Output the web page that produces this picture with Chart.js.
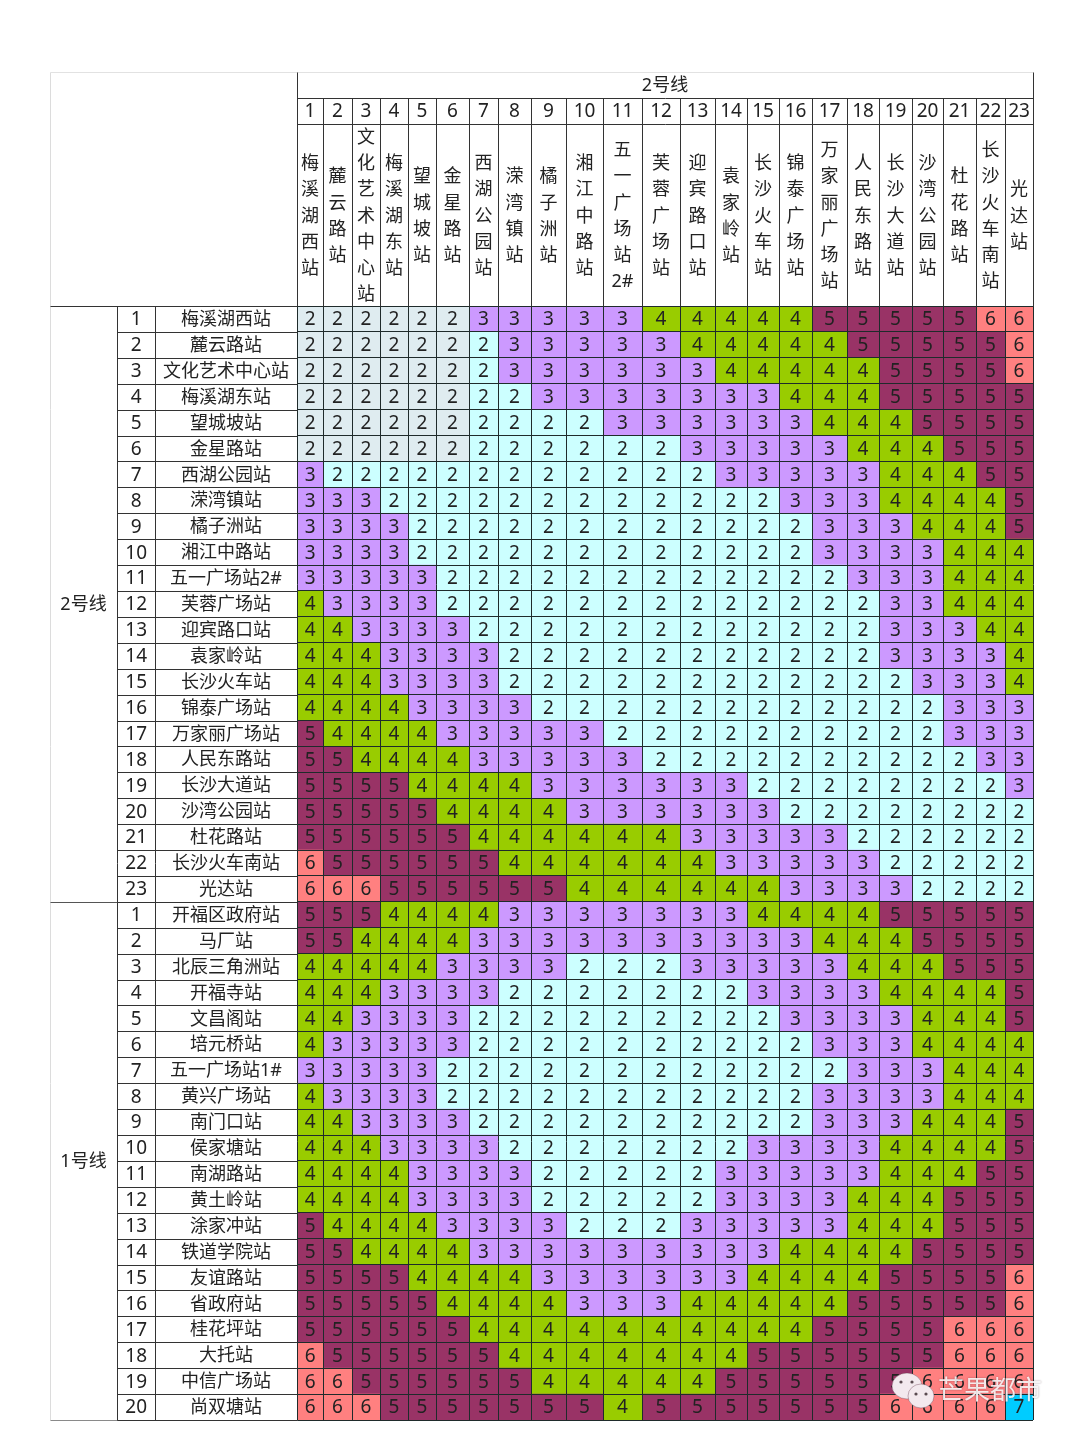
<!DOCTYPE html>
<html lang="zh">
<head>
<meta charset="utf-8">
<title>长沙地铁票价表</title>
<style>html,body{margin:0;padding:0;background:#fff}canvas{display:block}</style>
<script src="https://cdn.jsdelivr.net/npm/chart.js@4"></script>
</head>
<body>
<canvas id="c" width="1080" height="1441"></canvas>
<script>
const line2Name = '2号线';
const line1Name = '1号线';
const line2Stations = ['梅溪湖西站','麓云路站','文化艺术中心站','梅溪湖东站','望城坡站','金星路站','西湖公园站','溁湾镇站','橘子洲站','湘江中路站','五一广场站2#','芙蓉广场站','迎宾路口站','袁家岭站','长沙火车站','锦泰广场站','万家丽广场站','人民东路站','长沙大道站','沙湾公园站','杜花路站','长沙火车南站','光达站'];
const line1Stations = ['开福区政府站','马厂站','北辰三角洲站','开福寺站','文昌阁站','培元桥站','五一广场站1#','黄兴广场站','南门口站','侯家塘站','南湖路站','黄土岭站','涂家冲站','铁道学院站','友谊路站','省政府站','桂花坪站','大托站','中信广场站','尚双塘站'];

const line2Fares = [
[2,2,2,2,2,2,3,3,3,3,3,4,4,4,4,4,5,5,5,5,5,6,6],
[2,2,2,2,2,2,2,3,3,3,3,3,4,4,4,4,4,5,5,5,5,5,6],
[2,2,2,2,2,2,2,3,3,3,3,3,3,4,4,4,4,4,5,5,5,5,6],
[2,2,2,2,2,2,2,2,3,3,3,3,3,3,3,4,4,4,5,5,5,5,5],
[2,2,2,2,2,2,2,2,2,2,3,3,3,3,3,3,4,4,4,5,5,5,5],
[2,2,2,2,2,2,2,2,2,2,2,2,3,3,3,3,3,4,4,4,5,5,5],
[3,2,2,2,2,2,2,2,2,2,2,2,2,3,3,3,3,3,4,4,4,5,5],
[3,3,3,2,2,2,2,2,2,2,2,2,2,2,2,3,3,3,4,4,4,4,5],
[3,3,3,3,2,2,2,2,2,2,2,2,2,2,2,2,3,3,3,4,4,4,5],
[3,3,3,3,2,2,2,2,2,2,2,2,2,2,2,2,3,3,3,3,4,4,4],
[3,3,3,3,3,2,2,2,2,2,2,2,2,2,2,2,2,3,3,3,4,4,4],
[4,3,3,3,3,2,2,2,2,2,2,2,2,2,2,2,2,2,3,3,4,4,4],
[4,4,3,3,3,3,2,2,2,2,2,2,2,2,2,2,2,2,3,3,3,4,4],
[4,4,4,3,3,3,3,2,2,2,2,2,2,2,2,2,2,2,3,3,3,3,4],
[4,4,4,3,3,3,3,2,2,2,2,2,2,2,2,2,2,2,2,3,3,3,4],
[4,4,4,4,3,3,3,3,2,2,2,2,2,2,2,2,2,2,2,2,3,3,3],
[5,4,4,4,4,3,3,3,3,3,2,2,2,2,2,2,2,2,2,2,3,3,3],
[5,5,4,4,4,4,3,3,3,3,3,2,2,2,2,2,2,2,2,2,2,3,3],
[5,5,5,5,4,4,4,4,3,3,3,3,3,3,2,2,2,2,2,2,2,2,3],
[5,5,5,5,5,4,4,4,4,3,3,3,3,3,3,2,2,2,2,2,2,2,2],
[5,5,5,5,5,5,4,4,4,4,4,4,3,3,3,3,3,2,2,2,2,2,2],
[6,5,5,5,5,5,5,4,4,4,4,4,4,3,3,3,3,3,2,2,2,2,2],
[6,6,6,5,5,5,5,5,5,4,4,4,4,4,4,3,3,3,3,2,2,2,2]
];
const line1Fares = [
[5,5,5,4,4,4,4,3,3,3,3,3,3,3,4,4,4,4,5,5,5,5,5],
[5,5,4,4,4,4,3,3,3,3,3,3,3,3,3,3,4,4,4,5,5,5,5],
[4,4,4,4,4,3,3,3,3,2,2,2,3,3,3,3,3,4,4,4,5,5,5],
[4,4,4,3,3,3,3,2,2,2,2,2,2,2,3,3,3,3,4,4,4,4,5],
[4,4,3,3,3,3,2,2,2,2,2,2,2,2,2,3,3,3,3,4,4,4,5],
[4,3,3,3,3,3,2,2,2,2,2,2,2,2,2,2,3,3,3,4,4,4,4],
[3,3,3,3,3,2,2,2,2,2,2,2,2,2,2,2,2,3,3,3,4,4,4],
[4,3,3,3,3,2,2,2,2,2,2,2,2,2,2,2,3,3,3,3,4,4,4],
[4,4,3,3,3,3,2,2,2,2,2,2,2,2,2,2,3,3,3,4,4,4,5],
[4,4,4,3,3,3,3,2,2,2,2,2,2,2,3,3,3,3,4,4,4,4,5],
[4,4,4,4,3,3,3,3,2,2,2,2,2,3,3,3,3,3,4,4,4,5,5],
[4,4,4,4,3,3,3,3,2,2,2,2,2,3,3,3,3,4,4,4,5,5,5],
[5,4,4,4,4,3,3,3,3,2,2,2,3,3,3,3,3,4,4,4,5,5,5],
[5,5,4,4,4,4,3,3,3,3,3,3,3,3,3,4,4,4,4,5,5,5,5],
[5,5,5,5,4,4,4,4,3,3,3,3,3,3,4,4,4,4,5,5,5,5,6],
[5,5,5,5,5,4,4,4,4,3,3,3,4,4,4,4,4,5,5,5,5,5,6],
[5,5,5,5,5,5,4,4,4,4,4,4,4,4,4,4,5,5,5,5,6,6,6],
[6,5,5,5,5,5,5,4,4,4,4,4,4,4,5,5,5,5,5,5,6,6,6],
[6,6,5,5,5,5,5,5,4,4,4,4,4,5,5,5,5,5,5,6,6,6,6],
[6,6,6,5,5,5,5,5,5,5,4,5,5,5,5,5,5,5,6,6,6,6,7]
];

// Layout only: the width of each of the 23 unequal columns.
const columnWidths = [26,29,28,28,28,33,29,33,35,37,39,38,35,32,32,33,35,32,33,31,33,29,28];
const fareColors = {2:'#ccffff',3:'#cc99ff',4:'#99cc00',5:'#993366',6:'#ff8080',7:'#00ccff'};
const nearZoneColor = '#dfecf0';
const nearZoneSpan = 6;
const INK = '#222222';
const LINE = '#1f2b2b';
const FONT = '"Noto Sans","Noto Sans CJK SC",sans-serif';

const stationNames = line2Stations.concat(line1Stations);
const fares = line2Fares.concat(line1Fares);
const rowNumbers = line2Stations.map((_, i) => String(i + 1)).concat(line1Stations.map((_, i) => String(i + 1)));
const columnEdges = columnWidths.reduce((a, w) => (a.push(a[a.length - 1] + w), a), [0]);

function cellColor(row, col) {
  if (row < nearZoneSpan && col < nearZoneSpan) return nearZoneColor;
  return fareColors[fares[row][col]];
}

const datasets = columnWidths.map((_, col) => ({
  label: line2Stations[col],
  data: fares.map(() => [columnEdges[col], columnEdges[col + 1]]),
  backgroundColor: fares.map((_, row) => cellColor(row, col)),
  borderWidth: 0,
  grouped: false,
  barPercentage: 1,
  categoryPercentage: 1
}));

const tablePlugin = {
  id: 'tablePlugin',
  afterDatasetsDraw(chart) {
    const c = chart.ctx;
    c.save();
    c.fillStyle = INK; c.font = 'normal 19px ' + FONT; c.textAlign = 'center'; c.textBaseline = 'middle';
    fares.forEach((row, r) => row.forEach((v, k) => {
      const p = chart.getDatasetMeta(k).data[r].getCenterPoint();
      c.fillText(String(v), p.x, p.y + 1);
    }));
    c.restore();
  },
  afterDraw(chart) {
    const c = chart.ctx, area = chart.chartArea;
    const x = chart.scales.x, y = chart.scales.y;
    const left = 50, nameLeft = y.left, idxLeft = chart.scales.yIndex.left;
    const top = 72, r1 = 98, r2 = 124, bottom = area.bottom;
    const line = (a, b, d, e, col) => {
      c.strokeStyle = col; c.lineWidth = 1; c.beginPath();
      c.moveTo(Math.round(a) + .5, Math.round(b) + .5);
      c.lineTo(Math.round(d) + .5, Math.round(e) + .5); c.stroke();
    };
    c.save();
    // outer light frame
    line(left, top, area.right, top, '#e2e2e2');
    line(left, top, left, bottom, '#dcdcdc');
    line(left, bottom, area.left, bottom, '#8a8a8a');
    // header grid
    line(area.left, top, area.left, area.top, '#333');
    line(area.right, top, area.right, area.top, '#333');
    line(area.left, r1, area.right, r1, '#333');
    line(area.left, r2, area.right, r2, '#333');
    line(left, area.top, area.left, area.top, '#333');
    columnEdges.forEach(e => line(x.getPixelForValue(e), r1, x.getPixelForValue(e), area.top, '#333'));
    // left columns grid
    line(idxLeft, area.top, idxLeft, bottom, '#333');
    line(nameLeft, area.top, nameLeft, bottom, '#333');
    stationNames.forEach((_, i) => {
      const py = y.getPixelForValue(i + .5);
      if (i === line2Stations.length - 1) line(left, py, idxLeft, py, '#555');
      line(idxLeft, py, area.left, py, '#333');
    });
    // header text
    c.fillStyle = INK; c.font = 'normal 18px ' + FONT;
    c.textAlign = 'center'; c.textBaseline = 'middle';
    c.fillText(line2Name, (area.left + area.right) / 2, (top + r1) / 2 + 1);
    line2Stations.forEach((name, k) => {
      const cx = x.getPixelForValue((columnEdges[k] + columnEdges[k + 1]) / 2);
      c.font = 'normal 19px ' + FONT;
      c.fillText(String(k + 1), cx, (r1 + r2) / 2 + 1);
      c.font = 'normal 18px ' + FONT;
      const chars = name.match(/\d#|./gu);
      const step = 26.2, cy = (r2 + area.top) / 2 + 1.5;
      chars.forEach((ch, j) => c.fillText(ch, cx, cy + (j - (chars.length - 1) / 2) * step));
    });
    // merged line-name cells
    const mid = (left + idxLeft) / 2;
    const n2 = line2Stations.length, n1 = line1Stations.length;
    c.fillText(line2Name, mid, y.getPixelForValue((n2 - 1) / 2) + 1);
    c.fillText(line1Name, mid, y.getPixelForValue(n2 + (n1 - 1) / 2) + 1);
    // watermark
    const bubble = (bx, by, rx, ry) => {
      c.beginPath(); c.ellipse(bx, by, rx, ry, 0, 0, Math.PI * 2); c.fill();
      c.stroke();
    };
    c.fillStyle = '#f3e9ee'; c.strokeStyle = 'rgba(90,40,60,.35)'; c.lineWidth = 1;
    bubble(907, 1386, 15, 13);
    bubble(921, 1396, 13, 12);
    c.fillStyle = '#5a4a50';
    [[901, 1382], [912, 1382], [916, 1394], [926, 1394]].forEach(p => {
      c.beginPath(); c.arc(p[0], p[1], 1.6, 0, Math.PI * 2); c.fill();
    });
    c.font = 'normal 26px ' + FONT;
    c.textAlign = 'left';
    c.shadowColor = 'rgba(60,30,40,.55)'; c.shadowBlur = 2;
    c.fillStyle = 'rgba(255,255,255,.86)';
    c.fillText('芒果都市', 938, 1392);
    c.restore();
  }
};

new Chart(document.getElementById('c'), {
  type: 'bar',
  data: { labels: stationNames, datasets },
  options: {
    indexAxis: 'y',
    responsive: false,
    animation: false,
    devicePixelRatio: 1,
    layout: { padding: { left: 117, right: 47, top: 306, bottom: 21 } },
    plugins: { legend: { display: false }, tooltip: { enabled: false }, title: { display: false } },
    scales: {
      x: {
        type: 'linear', position: 'top', min: 0, max: columnEdges[columnEdges.length - 1],
        ticks: { display: false },
        grid: { color: LINE, lineWidth: 1, drawTicks: false, z: 1 },
        border: { display: false },
        afterBuildTicks(s) { s.ticks = columnEdges.map(v => ({ value: v })); },
        afterFit(s) { s.height = 0; }
      },
      y: {
        type: 'category', position: 'left', offset: true, weight: 0,
        ticks: { autoSkip: false, color: INK, padding: 8, crossAlign: 'center', labelOffset: 1, font: { family: FONT, size: 18 } },
        grid: { offset: true, color: LINE, lineWidth: 1, drawTicks: false, z: 1 },
        border: { display: false },
        afterFit(s) { s.width = 142; }
      },
      yIndex: {
        type: 'category', position: 'left', offset: true, weight: 1, labels: rowNumbers,
        ticks: { autoSkip: false, color: INK, padding: 8, crossAlign: 'center', labelOffset: 1, font: { family: FONT, size: 19 } },
        grid: { display: false, drawTicks: false },
        border: { display: false },
        afterFit(s) { s.width = 38; }
      }
    }
  },
  plugins: [tablePlugin]
});
</script>
</body>
</html>
